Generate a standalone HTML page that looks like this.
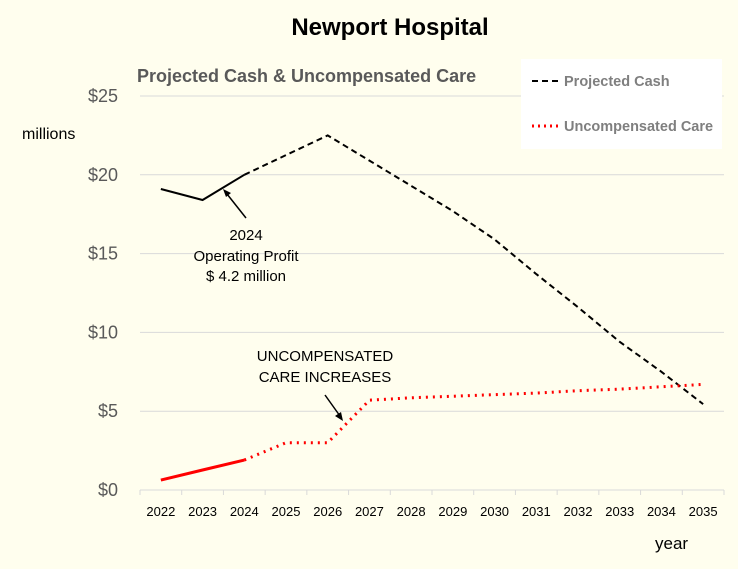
<!DOCTYPE html>
<html><head><meta charset="utf-8"><style>
body{margin:0;background:#fffeee;}
svg{display:block;font-family:"Liberation Sans",sans-serif;}
</style></head><body>
<svg id="c" width="738" height="569">
<rect width="738" height="569" fill="#fffeee"/>
<text x="390" y="35" text-anchor="middle" font-size="24" font-weight="bold" fill="#000">Newport Hospital</text>
<text x="137" y="82" font-size="18" font-weight="bold" fill="#595959">Projected Cash &amp; Uncompensated Care</text>
<text x="22" y="139" font-size="16" fill="#000">millions</text>
<text x="655" y="549" font-size="17" fill="#000">year</text>
<g id="grid"></g><g id="axes"></g><g id="series"></g>
<g>
<rect x="521" y="59" width="201" height="90" fill="#fff"/>
<line x1="532" y1="81" x2="559" y2="81" stroke="#000" stroke-width="2" stroke-dasharray="6,4"/>
<text x="564" y="86" font-size="14.5" font-weight="bold" fill="#7f7f7f">Projected Cash</text>
<line x1="532" y1="126" x2="559" y2="126" stroke="#f00" stroke-width="3" stroke-dasharray="2,4"/>
<text x="564" y="131" font-size="14.5" font-weight="bold" fill="#7f7f7f">Uncompensated Care</text>
</g>
<g>
<text x="246" y="240" text-anchor="middle" font-size="15" fill="#000">2024</text>
<text x="246" y="261" text-anchor="middle" font-size="15" fill="#000">Operating Profit</text>
<text x="246" y="281" text-anchor="middle" font-size="15" fill="#000">$ 4.2 million</text>
<line x1="246" y1="218" x2="227" y2="194" stroke="#000" stroke-width="1.5"/>
<polygon points="223,189 231,193 226,197" fill="#000"/>
</g>
<g>
<text x="325" y="361" text-anchor="middle" font-size="15" fill="#000">UNCOMPENSATED</text>
<text x="325" y="382" text-anchor="middle" font-size="15" fill="#000">CARE INCREASES</text>
<line x1="325" y1="395" x2="340" y2="416" stroke="#000" stroke-width="1.5"/>
<polygon points="343,421 335,416 341,412" fill="#000"/>
</g>
</svg>
<script>
const years=["2022","2023","2024","2025","2026","2027","2028","2029","2030","2031","2032","2033","2034","2035"];
const cash=[19.1,18.4,20.0,21.25,22.5,20.9,19.3,17.7,15.9,13.7,11.6,9.4,7.5,5.45];
const care=[0.63,1.27,1.9,3.0,3.0,5.7,5.85,5.95,6.05,6.15,6.3,6.4,6.55,6.7];
const yTicks=[0,5,10,15,20,25];
const yLabels=["$0","$5","$10","$15","$20","$25"];
const actualCount=3;
const L=140,R=724,Y0=490,YT=96,YMAX=25;
const NS="http://www.w3.org/2000/svg";
const bw=(R-L)/years.length;
const xs=i=>L+bw*(i+0.5);
const ys=v=>Y0-(v/YMAX)*(Y0-YT);
function mk(t,a,p){const e=document.createElementNS(NS,t);for(const k in a)e.setAttribute(k,a[k]);p.appendChild(e);return e;}
const grid=document.getElementById('grid'),axes=document.getElementById('axes'),ser=document.getElementById('series');
yTicks.forEach((v,i)=>{
 if(v>0){const g=mk('line',{x1:L,x2:R,y1:ys(v),y2:ys(v),stroke:'#d9d9d9','stroke-width':1},grid);
 
 }
 const t=mk('text',{x:118,y:ys(v)+6,'text-anchor':'end','font-size':18,fill:'#595959'},axes);
 t.textContent=yLabels[i];
 
 
});
const ax=mk('line',{x1:L,x2:R,y1:Y0,y2:Y0,stroke:'#d9d9d9','stroke-width':1},axes);


for(let i=0;i<=years.length;i++){const tk=mk('line',{x1:L+bw*i,x2:L+bw*i,y1:Y0,y2:Y0+5,stroke:'#d9d9d9'},axes);
 
 }
years.forEach((y,i)=>{const t=mk('text',{x:xs(i),y:516,'text-anchor':'middle','font-size':13,fill:'#000'},axes);
 t.textContent=y;
 
 });
function pts(arr,a,b){const p=[];for(let i=a;i<=b;i++)p.push(xs(i)+','+ys(arr[i]));return p.join(' ');}
const n=years.length-1,k=actualCount-1;
let e;
e=mk('polyline',{points:pts(cash,0,k),fill:'none',stroke:'#000','stroke-width':2},ser);


e=mk('polyline',{points:pts(cash,k,n),fill:'none',stroke:'#000','stroke-width':2,'stroke-dasharray':'6,4'},ser);


e=mk('polyline',{points:pts(care,0,k),fill:'none',stroke:'#f00','stroke-width':3},ser);


e=mk('polyline',{points:pts(care,k,n),fill:'none',stroke:'#f00','stroke-width':3,'stroke-dasharray':'2,5'},ser);


</script>
</body></html>
